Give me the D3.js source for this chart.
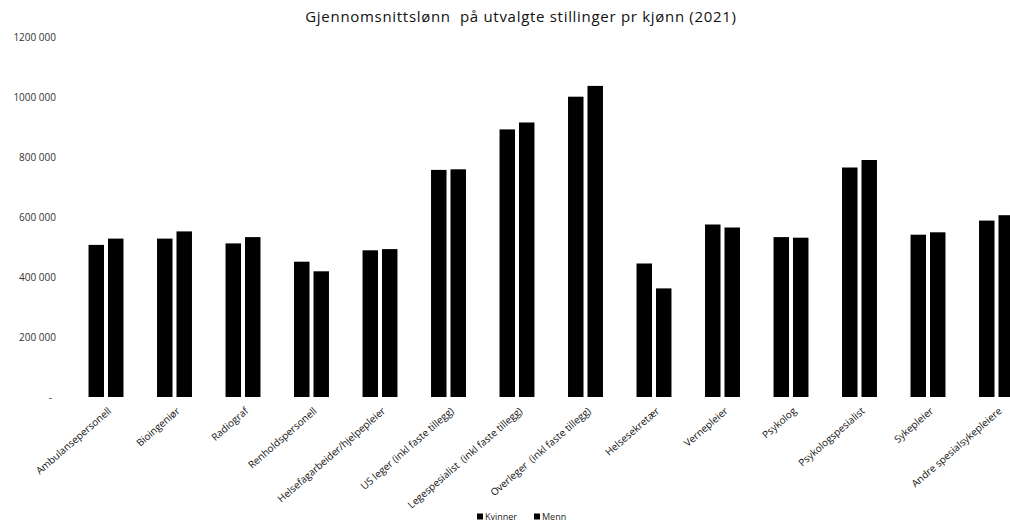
<!DOCTYPE html>
<html>
<head>
<meta charset="utf-8">
<script src="https://cdn.jsdelivr.net/npm/d3@7"></script>
<style>
  html, body { margin: 0; padding: 0; background: #fff; }
  svg { display: block; font-family: "Open Sans", "Liberation Sans", sans-serif; }
  text { white-space: pre; }
</style>
</head>
<body>
<svg id="chart" width="1010" height="522"></svg>
<script>
// Average salary by position and gender, 2021
const categories = [
  "Ambulansepersonell",
  "Bioingeniør",
  "Radiograf",
  "Renholdspersonell",
  "Helsefagarbeider/hjelpepleier",
  "US leger (inkl faste tillegg)",
  "Legespesialist  (inkl faste tillegg)",
  "Overleger  (inkl faste tillegg)",
  "Helsesekretær",
  "Vernepleier",
  "Psykolog",
  "Psykologspesialist",
  "Sykepleier",
  "Andre spesialsykepleiere"
];
const seriesNames = ["Kvinner", "Menn"];
const kvinner = [507000, 528000, 512000, 451000, 489000, 757000, 892000, 1001000, 445000, 575000, 533000, 765000, 541000, 588000];
const menn    = [528000, 552000, 533000, 419000, 493000, 759000, 915000, 1037000, 362000, 565000, 531000, 790000, 549000, 606000];
const yTicks = [0, 200000, 400000, 600000, 800000, 1000000, 1200000];
const yTickLabels = ["-", "200 000", "400 000", "600 000", "800 000", "1000 000", "1200 000"];
const seriesColors = ["#000000", "#000000"];

const svg = d3.select("#chart");

// Plot area (the last group runs slightly past the right edge)
const plot = { left: 71.75, right: 1030.75, top: 37, bottom: 397 };

const x = d3.scaleBand()
  .domain(categories)
  .range([plot.left, plot.right])
  .paddingInner(0.49)
  .paddingOuter(0.245);

const xSub = d3.scaleBand()
  .domain(seriesNames)
  .range([0, x.bandwidth()])
  .paddingInner(0.205);

const y = d3.scaleLinear()
  .domain([0, 1200000])
  .range([plot.bottom, plot.top]);

const color = d3.scaleOrdinal().domain(seriesNames).range(seriesColors);

// Title
svg.append("text")
  .attr("x", 521)
  .attr("y", 22)
  .attr("text-anchor", "middle")
  .attr("font-size", 15)
  .attr("letter-spacing", 0.7)
  .attr("fill", "#111")
  .text("Gjennomsnittslønn  på utvalgte stillinger pr kjønn (2021)");

// Y axis (labels only, no line or ticks)
const yAxis = d3.axisLeft(y)
  .tickValues(yTicks)
  .tickSize(0)
  .tickPadding(0)
  .tickFormat((d, i) => yTickLabels[i]);

const gy = svg.append("g")
  .attr("transform", "translate(56,0)")
  .call(yAxis);
gy.select(".domain").remove();
gy.selectAll("text")
  .attr("font-size", 10)
  .attr("font-family", "\"Open Sans\", sans-serif")
  .attr("fill", "#333");
gy.selectAll("text").filter(d => d === 0).attr("dx", -4);

// Bars
const rows = categories.map((c, i) => ({ category: c, values: [kvinner[i], menn[i]] }));

const groups = svg.append("g")
  .selectAll("g")
  .data(rows)
  .join("g")
  .attr("transform", d => `translate(${x(d.category)},0)`);

groups.selectAll("rect")
  .data(d => d.values.map((v, k) => ({ key: seriesNames[k], value: v })))
  .join("rect")
  .attr("x", d => xSub(d.key))
  .attr("y", d => y(d.value))
  .attr("width", xSub.bandwidth())
  .attr("height", d => y(0) - y(d.value))
  .attr("fill", d => color(d.key));

// X axis category labels, slanted
const xAxis = d3.axisBottom(x).tickSize(0).tickPadding(0);
const gx = svg.append("g")
  .attr("transform", `translate(0,${plot.bottom})`)
  .call(xAxis);
gx.select(".domain").remove();
gx.selectAll("text")
  .attr("font-size", 10)
  .attr("font-family", "\"Open Sans\", sans-serif")
  .attr("fill", "#111")
  .attr("text-anchor", "end")
  .attr("dy", 0)
  .attr("y", 0)
  .attr("transform", "translate(6,15) rotate(-41)");

// Legend
const legend = svg.append("g").attr("transform", "translate(477,517)");
const legendItems = legend.selectAll("g")
  .data(seriesNames)
  .join("g")
  .attr("transform", (d, i) => `translate(${i * 57},0)`);
legendItems.append("rect")
  .attr("x", 0)
  .attr("y", -3.5)
  .attr("width", 6)
  .attr("height", 6)
  .attr("fill", d => color(d));
legendItems.append("text")
  .attr("x", 8)
  .attr("y", 3)
  .attr("font-size", 9)
  .attr("fill", "#222")
  .text(d => d);
</script>
</body>
</html>
